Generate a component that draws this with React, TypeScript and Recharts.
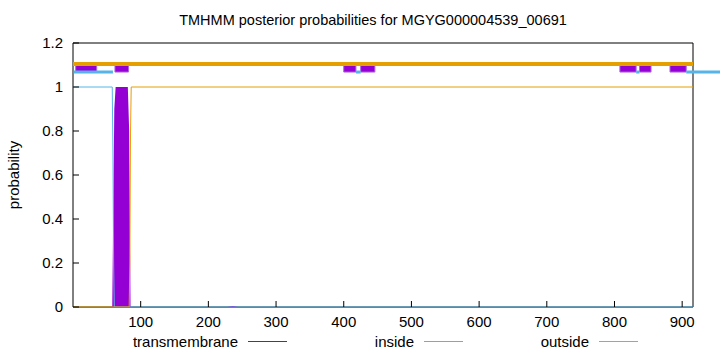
import {
  ComposedChart,
  Line,
  Area,
  XAxis,
  YAxis,
  ReferenceArea,
  ReferenceLine,
} from "recharts";

const seqLength = 916;
const xTicks = [100, 200, 300, 400, 500, 600, 700, 800, 900];
const yTicks = [0, 0.2, 0.4, 0.6, 0.8, 1, 1.2];

// posterior curves (position, probability)
const tmPos = [1, 58, 59, 61, 63, 81, 83, 85, 228, 236, 244, 916];
const tmProb = [0, 0, 0.3, 0.9, 1, 1, 0.8, 0, 0, 0.004, 0, 0];
const insidePos = [1, 58, 59, 60, 61, 916];
const insideProb = [1, 1, 0.7, 0.2, 0, 0];
const outsidePos = [1, 83, 84, 85, 86, 916];
const outsideProb = [0, 0, 0.2, 0.8, 1, 1];

// predicted topology strip at the top
const outsideLevel = 1.105;
const insideLevel = 1.068;
const tmBoxes = [
  [4, 35],
  [62, 82],
  [400, 418],
  [425, 446],
  [808, 832],
  [837, 854],
  [882, 906],
];
const insideSegments = [
  [1, 59],
  [418, 425],
  [832, 837],
  [906, 960],
];

const zip = (xs: number[], ys: number[]) => xs.map((x, i) => ({ x, y: ys[i] }));

const tmData = zip(tmPos, tmProb);
const insideData = zip(insidePos, insideProb);
const outsideData = zip(outsidePos, outsideProb);
const outsideStrip = zip([0, seqLength], [outsideLevel, outsideLevel]);

const PURPLE = "#9400d3";
const BLUE = "#56b4e9";
const ORANGE = "#e69f00";
const FONT = "'Liberation Sans', Arial, sans-serif";
const FS = 15;

export default function App() {
  return (
    <div style={{ position: "absolute", left: 0, top: 0, width: 720, height: 352, fontFamily: FONT }}>
      <div
        style={{
          position: "absolute",
          left: 0,
          width: 746,
          top: 12,
          textAlign: "center",
          fontSize: 14.5,
          color: "#000",
        }}
      >
        TMHMM posterior probabilities for MGYG000004539_00691
      </div>
      <ComposedChart
        width={720}
        height={352}
        margin={{ top: 43, right: 27, bottom: 0, left: 0 }}
        style={{ fontFamily: FONT }}
      >
        <XAxis
          xAxisId="b"
          type="number"
          dataKey="x"
          domain={[0, seqLength]}
          ticks={xTicks}
          height={45}
          axisLine={false}
          tickSize={-6}
          tickMargin={15}
          tickLine={{ stroke: "#000" }}
          tick={{ fill: "#000", fontSize: FS }}
          allowDataOverflow
        />
        <XAxis
          xAxisId="t"
          orientation="top"
          type="number"
          dataKey="x"
          domain={[0, seqLength]}
          ticks={xTicks}
          height={0}
          axisLine={false}
          tickSize={-6}
          tickLine={{ stroke: "#000" }}
          tick={false}
          allowDataOverflow
        />
        <YAxis
          yAxisId="l"
          type="number"
          domain={[0, 1.2]}
          ticks={yTicks}
          width={73}
          axisLine={false}
          tickSize={-6}
          tickMargin={16}
          tickLine={{ stroke: "#000" }}
          tick={{ fill: "#000", fontSize: FS }}
          label={{
            value: "probability",
            angle: -90,
            position: "insideLeft",
            offset: 14,
            style: { textAnchor: "middle", fill: "#000", fontSize: FS },
          }}
          allowDataOverflow
        />
        <YAxis
          yAxisId="r"
          orientation="right"
          type="number"
          domain={[0, 1.2]}
          ticks={yTicks}
          width={0}
          axisLine={false}
          tickSize={-6}
          tickLine={{ stroke: "#000" }}
          tick={false}
          allowDataOverflow
        />
        <ReferenceArea
          xAxisId="b"
          yAxisId="l"
          x1={0}
          x2={seqLength}
          y1={0}
          y2={1.2}
          fill="none"
          stroke="#000"
          strokeWidth={1}
        />
        <Line
          xAxisId="b"
          yAxisId="l"
          data={outsideStrip}
          dataKey="y"
          stroke={ORANGE}
          strokeWidth={4}
          dot={false}
          isAnimationActive={false}
        />
        {insideSegments.map(([a, b], i) => (
          <ReferenceLine
            key={"is" + i}
            xAxisId="b"
            yAxisId="l"
            segment={[
              { x: a, y: insideLevel },
              { x: b, y: insideLevel },
            ]}
            stroke={BLUE}
            strokeWidth={3}
            ifOverflow="visible"
          />
        ))}
        {tmBoxes.map(([a, b], i) => (
          <ReferenceArea
            key={"tb" + i}
            xAxisId="b"
            yAxisId="l"
            x1={a}
            x2={b}
            y1={insideLevel}
            y2={outsideLevel}
            fill={PURPLE}
            fillOpacity={1}
            stroke="#b060e0"
            strokeWidth={1}
          />
        ))}
        <Area
          xAxisId="b"
          yAxisId="l"
          data={tmData}
          dataKey="y"
          type="linear"
          stroke="none"
          fill={PURPLE}
          fillOpacity={1}
          dot={false}
          activeDot={false}
          isAnimationActive={false}
        />
        <Line
          xAxisId="b"
          yAxisId="l"
          data={insideData}
          dataKey="y"
          type="linear"
          stroke={BLUE}
          strokeWidth={1}
          dot={false}
          isAnimationActive={false}
        />
        <Line
          xAxisId="b"
          yAxisId="l"
          data={outsideData}
          dataKey="y"
          type="linear"
          stroke={ORANGE}
          strokeWidth={1}
          dot={false}
          isAnimationActive={false}
        />
      </ComposedChart>
      <svg
        width={720}
        height={20}
        style={{ position: "absolute", left: 0, top: 332, fontFamily: FONT }}
      >
        <text x={238} y={15} textAnchor="end" fontSize={FS} fill="#000">
          transmembrane
        </text>
        <line x1={248} x2={287} y1={9.5} y2={9.5} stroke={PURPLE} strokeWidth={1} />
        <text x={414} y={15} textAnchor="end" fontSize={FS} fill="#000">
          inside
        </text>
        <line x1={424} x2={463} y1={9.5} y2={9.5} stroke={BLUE} strokeWidth={1} />
        <text x={589} y={15} textAnchor="end" fontSize={FS} fill="#000">
          outside
        </text>
        <line x1={599} x2={638} y1={9.5} y2={9.5} stroke={ORANGE} strokeWidth={1} />
      </svg>
    </div>
  );
}
